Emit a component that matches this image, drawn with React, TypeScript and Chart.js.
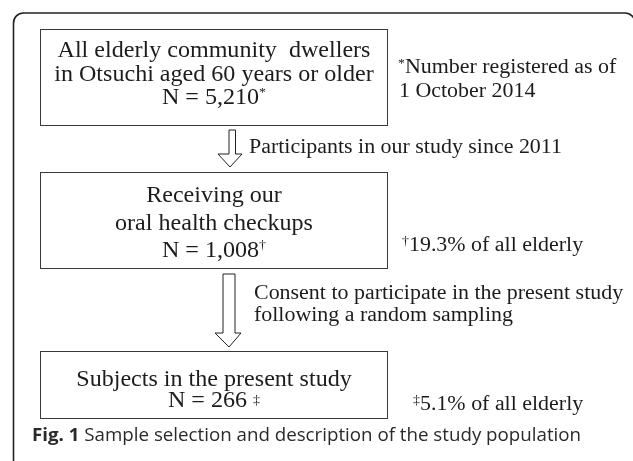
import React, { useEffect, useRef } from "react";
import { Chart, registerables } from "chart.js";

Chart.register(...registerables);

// ---------- data ----------
const stageTitles: string[][] = [
  ["All elderly community  dwellers", "in Otsuchi aged 60 years or older"],
  ["Receiving our", "oral health checkups"],
  ["Subjects in the present study"],
];
const stageCounts = [5210, 1008, 266];
const stageMarks = ["*", "\u2020", "\u2021"];
const stageShares: (number | null)[] = [null, 19.3, 5.1];
const registrationNote = ["Number registered as of", "1 October 2014"];
const transitionLabels: string[][] = [
  ["Participants in our study since 2011"],
  ["Consent to participate in the present study", "following a random sampling"],
];
const figLabel = "Fig. 1";
const figCaption = "Sample selection and description of the study population";

// ---------- layout (value space of the hidden linear scales) ----------
const W = 633;
const H = 461;
const FRAME = { x0: 13.5, y0: 13, x1: 635, y1: 470, r: 10 };
const BOX_X = [40.5, 387.5];
const BOX_Y = [
  [29.5, 125.5],
  [172.5, 268.5],
  [351.5, 418.5],
];
const BOX_BASELINES = [
  [57, 80.5, 103.5],
  [201.5, 229.5, 257],
  [386, 407],
];
const ARROWS = [
  { top: 130, base: 154, tip: 167, sL: 229, sR: 235.5, hL: 218, hR: 242, tx: 230 },
  { top: 274, base: 333, tip: 347, sL: 223, sR: 235, hL: 215, hR: 241, tx: 229 },
];
const TRANS_POS = [
  { x: 249, ys: [153] },
  { x: 254, ys: [299, 321] },
];
const NOTE_POS = [
  { x: 398, ys: [72.7, 96.7] },
  { x: 402, ys: [251] },
  { x: 413, ys: [410] },
];
const CAPTION_POS = { x: 32, y: 441 };

const SERIF = '"Liberation Serif", "Times New Roman", serif';
const SANS = '"Open Sans", "Noto Sans", sans-serif';
const BOX_FONT = `22.5px ${SERIF}`;
const NOTE_FONT = `20.5px ${SERIF}`;
const SUP_FONT = `13px ${SERIF}`;
const BOX_SX = 1.07;
const NOTE_SX = 1.07;
const TEXT_COLOR = "#1c1c1c";

type Run = { text: string; font: string; dy?: number };

function drawRuns(
  ctx: CanvasRenderingContext2D,
  runs: Run[],
  x: number,
  y: number,
  align: "left" | "center",
  sx: number
) {
  let total = 0;
  const widths = runs.map((r) => {
    ctx.font = r.font;
    const w = ctx.measureText(r.text).width * sx;
    total += w;
    return w;
  });
  let cur = align === "center" ? x - total / 2 : x;
  runs.forEach((r, i) => {
    ctx.save();
    ctx.font = r.font;
    ctx.textAlign = "left";
    ctx.textBaseline = "alphabetic";
    ctx.translate(cur, y + (r.dy || 0));
    ctx.scale(sx, 1);
    ctx.fillText(r.text, 0, 0);
    ctx.restore();
    cur += widths[i];
  });
}

const flowPlugin = {
  id: "flowchart",
  afterDraw(chart: any) {
    const ctx: CanvasRenderingContext2D = chart.ctx;
    const xs = chart.scales.x;
    const ys = chart.scales.y;
    const px = (v: number) => xs.getPixelForValue(v);
    const py = (v: number) => ys.getPixelForValue(v);

    ctx.save();
    // outer rounded frame
    ctx.strokeStyle = "#222";
    ctx.lineWidth = 1.6;
    ctx.beginPath();
    const fx0 = px(FRAME.x0), fy0 = py(FRAME.y0), fx1 = px(FRAME.x1), fy1 = py(FRAME.y1);
    ctx.roundRect(fx0, fy0, fx1 - fx0, fy1 - fy0, FRAME.r);
    ctx.stroke();

    // boxes
    ctx.strokeStyle = "#3a3a3a";
    ctx.lineWidth = 1;
    ctx.fillStyle = TEXT_COLOR;
    const cx = px((BOX_X[0] + BOX_X[1]) / 2);
    stageCounts.forEach((count, i) => {
      const [y0, y1] = BOX_Y[i];
      ctx.strokeRect(px(BOX_X[0]), py(y0), px(BOX_X[1]) - px(BOX_X[0]), py(y1) - py(y0));
      const bl = BOX_BASELINES[i];
      stageTitles[i].forEach((line, j) => {
        drawRuns(ctx, [{ text: line, font: BOX_FONT }], cx, py(bl[j]), "center", BOX_SX);
      });
      const nText = "N = " + count.toLocaleString("en-US");
      const runs: Run[] =
        i === 2
          ? [
              { text: nText + " ", font: BOX_FONT },
              { text: stageMarks[i], font: SUP_FONT, dy: -3 },
            ]
          : [
              { text: nText, font: BOX_FONT },
              { text: stageMarks[i], font: SUP_FONT, dy: -8 },
            ];
      drawRuns(ctx, runs, cx, py(bl[stageTitles[i].length]), "center", BOX_SX);
    });

    // hollow block arrows
    ctx.strokeStyle = "#222";
    ctx.fillStyle = "#fff";
    ctx.lineWidth = 1;
    ARROWS.forEach((a) => {
      ctx.beginPath();
      ctx.moveTo(px(a.sL), py(a.top));
      ctx.lineTo(px(a.sR), py(a.top));
      ctx.lineTo(px(a.sR), py(a.base));
      ctx.lineTo(px(a.hR), py(a.base));
      ctx.lineTo(px(a.tx), py(a.tip));
      ctx.lineTo(px(a.hL), py(a.base));
      ctx.lineTo(px(a.sL), py(a.base));
      ctx.closePath();
      ctx.fill();
      ctx.stroke();
    });

    // transition labels
    ctx.fillStyle = TEXT_COLOR;
    transitionLabels.forEach((lines, i) => {
      lines.forEach((line, j) => {
        drawRuns(ctx, [{ text: line, font: NOTE_FONT }], px(TRANS_POS[i].x), py(TRANS_POS[i].ys[j]), "left", NOTE_SX);
      });
    });

    // footnotes
    drawRuns(
      ctx,
      [
        { text: stageMarks[0], font: SUP_FONT, dy: -6 },
        { text: registrationNote[0], font: NOTE_FONT },
      ],
      px(NOTE_POS[0].x),
      py(NOTE_POS[0].ys[0]),
      "left",
      NOTE_SX
    );
    drawRuns(ctx, [{ text: registrationNote[1], font: NOTE_FONT }], px(NOTE_POS[0].x + 1), py(NOTE_POS[0].ys[1]), "left", NOTE_SX);
    [1, 2].forEach((i) => {
      const share = stageShares[i];
      if (share == null) return;
      drawRuns(
        ctx,
        [
          { text: stageMarks[i], font: SUP_FONT, dy: -6 },
          { text: `${share}% of all elderly`, font: NOTE_FONT },
        ],
        px(NOTE_POS[i].x),
        py(NOTE_POS[i].ys[0]),
        "left",
        NOTE_SX
      );
    });

    // caption
    ctx.fillStyle = "#2a2a2a";
    drawRuns(
      ctx,
      [
        { text: figLabel + " ", font: `bold 18px ${SANS}` },
        { text: figCaption, font: `18px ${SANS}` },
      ],
      px(CAPTION_POS.x),
      py(CAPTION_POS.y),
      "left",
      1.04
    );
    ctx.restore();
  },
};

export default function App() {
  const ref = useRef<HTMLCanvasElement | null>(null);
  useEffect(() => {
    if (!ref.current) return;
    const chart = new Chart(ref.current, {
      type: "scatter",
      data: {
        datasets: [
          {
            label: "Stages",
            data: stageCounts.map((c, i) => ({
              x: (BOX_X[0] + BOX_X[1]) / 2,
              y: (BOX_Y[i][0] + BOX_Y[i][1]) / 2,
              n: c,
            })) as any,
            pointRadius: 0,
            pointHoverRadius: 0,
          },
        ],
      },
      options: {
        animation: false,
        responsive: false,
        devicePixelRatio: 1,
        layout: { padding: 0 },
        plugins: { legend: { display: false }, tooltip: { enabled: false } },
        scales: {
          x: { type: "linear", min: 0, max: W, display: false },
          y: { type: "linear", min: 0, max: H, reverse: true, display: false },
        },
      },
      plugins: [flowPlugin],
    });
    return () => chart.destroy();
  }, []);
  return (
    <div style={{ position: "absolute", left: 0, top: 0, width: W, height: H, background: "#fff" }}>
      <canvas ref={ref} width={W} height={H} style={{ display: "block" }} />
    </div>
  );
}
